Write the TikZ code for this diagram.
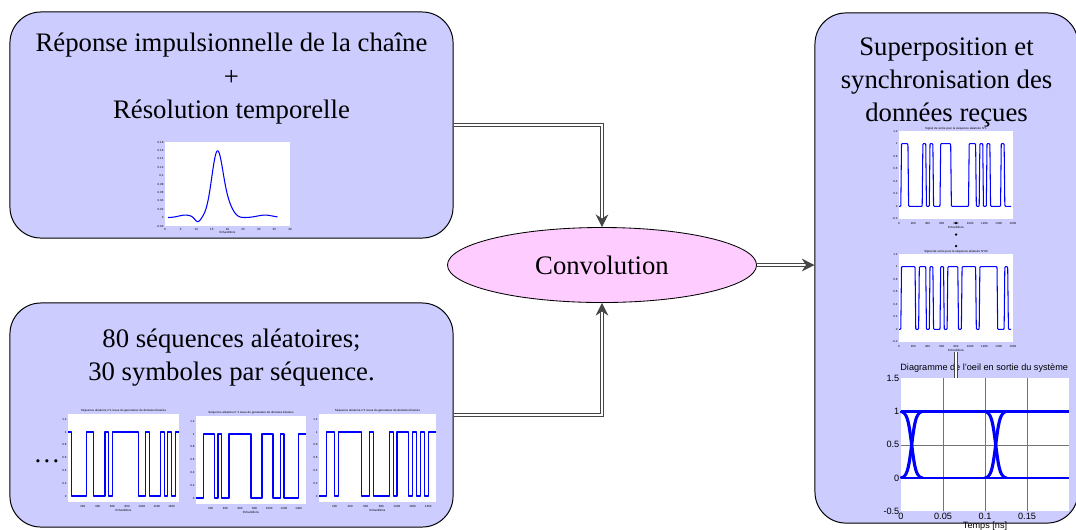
\documentclass[tikz,border=0pt]{standalone}
\usepackage{fontspec}
\setmainfont{Liberation Serif}
\setsansfont{Liberation Sans}
\usetikzlibrary{shapes.geometric,arrows.meta,positioning}

\definecolor{boxblue}{HTML}{CCCCFF}
\definecolor{convpink}{HTML}{FFCCFF}
\definecolor{wireg}{HTML}{464646}

% input sequence: left, top, width, number, first bit, other bits
\newcommand{\seqplot}[6]{%
  \begin{scope}[shift={(#1,#2)}]
    \fill[white] (0,0) rectangle (#3,88);
    \node[ticklab] at ({#3/2},-3) {Séquence aléatoire n°#4 issue du generateur de données binaires};
    \foreach \v in {0,0.2,0.4,0.6,0.8,1,1.2}
      \node[ticklab,anchor=east] at (-1,{82-64*\v}) {\v};
    \foreach \v in {200,400,...,1400}
      \node[ticklab] at ({\v/1500*#3},92) {\v};
    \node[ticklab] at ({#3/2},96) {Echantillons};
    \draw[wave] (0,{82-64*#5}) -- ({#3/30},{82-64*#5})
      \foreach \b [count=\k] in {#6} { -- ({#3*\k/30},{82-64*\b}) -- ({#3*(\k+1)/30},{82-64*\b}) };
  \end{scope}}

% received signal: name, left, top, number, first bit, other bits
\newcommand{\outplot}[6]{%
  \begin{scope}[shift={(#2,#3)}]
    \fill[white] (0,0) rectangle (114,88);
    \node[ticklab] at (57,-2.5) {Signal de sortie pour la séquence aléatoire N°#4};
    \foreach \v in {-0.2,0,0.2,0.4,0.6,0.8,1,1.2}
      \node[ticklab,anchor=east] at (-1,{75.4-62.8*\v}) {\v};
    \foreach \v in {0,200,...,1600}
      \node[ticklab] at ({\v/1600*114},92) {\v};
    \node[ticklab] (#1) at (57,96.5) {Echantillons};
    \draw[wave,rounded corners=0.6pt] (0,75.4) -- (1.8,75.4) -- (2.5,{75.4-62.8*#5}) -- (5.36,{75.4-62.8*#5})
      \foreach \b [count=\k] in {#6} { -- ({1.8+3.5625*\k+0.7},{75.4-62.8*\b}) -- ({1.8+3.5625*(\k+1)},{75.4-62.8*\b}) }
      -- (109.4,75.4) -- (112,75.4);
  \end{scope}}

\begin{document}
\begin{tikzpicture}[x=0.025cm,y=-0.025cm,node distance=1cm,
    box/.style={draw,line width=0.7pt,fill=boxblue,rounded corners=22pt,inner sep=0pt},
    txt/.style={align=center,font=\fontsize{19}{23.5}\selectfont,inner sep=0pt},
    dline/.style={draw=wireg,double=white,double distance=1.4pt,line width=0.85pt,
      -{Stealth[length=9pt,width=9pt]}},
    wave/.style={blue,line width=0.75pt,line join=round},
    ticklab/.style={font=\sffamily\fontsize{2.1}{2.5}\selectfont,inner sep=0.2pt},
    eyelab/.style={font=\sffamily\fontsize{6.5}{7.5}\selectfont,inner sep=1pt},
    eyegrid/.style={black!55,line width=0.35pt},
    eyetrace/.style={blue,line width=1.3pt},
    declare function={bump(\t,\m,\s)=exp(-(\t-\m)*(\t-\m)/(\s*\s));
      imp(\t)=0.158*bump(\t,16.8,2.6)+0.02*bump(\t,20.5,2.2)+0.006*bump(\t,6.5,3)
        -0.011*bump(\t,10.5,1.3)+0.006*bump(\t,32,3.5);}]
\useasboundingbox (0,0) rectangle (1076,529);

\node[box,minimum width=11.075cm,minimum height=5.65cm] (rep) at (231.5,125) {};
\node[box,minimum width=11.075cm,minimum height=5.6cm] (seq) at (231.5,415) {};
\node[box,minimum width=6.575cm,minimum height=12.75cm] (res) at (946.5,268) {};
\node[draw,ellipse,fill=convpink,line width=0.6pt,minimum width=7.725cm,minimum height=1.875cm,txt]
  (conv) at (602,265) {Convolution};

\node[txt] (reptxt) [below=0.54cm of rep.north] {Réponse impulsionnelle de la chaîne\\+\\Résolution temporelle};
\node[txt] (seqtxt) [below=0.66cm of seq.north] {80 séquences aléatoires;\\30 symboles par séquence.};
\node[txt] (restxt) [below=0.62cm of res.north] {Superposition et\\synchronisation des\\données reçues};

\path[dline] (rep.east) -| (conv.north);
\path[dline] (seq.east) -| (conv.south);
\path[dline] (conv.east) -- (conv.east -| res.west);

% impulse response
\begin{scope}[shift={(165,226)}]
  \fill[white] (0,0) rectangle (125,-84);
  \foreach \v in {-0.02,0,0.02,0.04,0.06,0.08,0.1,0.12,0.14,0.16,0.18}
    \node[ticklab,anchor=east] at (-1,{-420*(\v+0.02)}) {\v};
  \foreach \v in {0,5,...,40}
    \node[ticklab] at (3.125*\v,3) {\v};
  \node[ticklab] at (62.5,6.5) {Echantillons};
  \draw[wave] plot[domain=1:36,samples=140] (3.125*\x,{-420*(imp(\x)+0.02)});
\end{scope}

% emitted sequences
\node[txt] (etc) at (47,461) {\dots};
\seqplot{68}{414}{111}{1}{1}{0,0,0,0,1,1,0,0,0,1,0,1,1,1,1,1,1,1,0,0,1,0,0,0,1,0,1,0,1}
\seqplot{196}{416}{110}{1}{0}{0,1,1,1,0,1,0,0,1,1,1,1,1,1,0,0,0,1,1,1,0,0,1,0,0,0,0,1,1}
\seqplot{319}{414}{117}{1}{0}{0,1,1,0,1,1,1,1,1,1,0,0,1,0,0,0,0,1,0,1,1,1,0,1,0,1,0,1,1}

% received signals
\outplot{lab1}{899}{131}{1}{1}{1,0,0,0,0,1,0,1,0,0,1,1,1,0,0,0,0,0,1,1,0,1,0,1,0,0,0,1,0}
\outplot{lab80}{899}{254}{80}{1}{1,1,1,0,1,1,0,1,0,0,1,0,1,1,1,0,1,1,1,1,0,1,1,1,1,1,0,0,1}
\foreach \y in {223,234.5,246}
  \fill (956,\y) circle (0.9pt);

% eye diagram
\begin{scope}[shift={(901,478)},x=21cm,y=1.6625cm]
  \fill[white] (0,-0.5) rectangle (0.2,1.5);
  \foreach \t in {0.05,0.1,0.15}
    \draw[eyegrid] (\t,-0.5) -- (\t,1.5);
  \foreach \v in {0,0.5,1}
    \draw[eyegrid] (0,\v) -- (0.2,\v);
  \foreach \v in {-0.5,0,0.5,1,1.5}
    \node[eyelab,anchor=east] at (0,\v) {\v};
  \foreach \t in {0,0.05,0.1,0.15}
    \node[eyelab,anchor=north] at (\t,-0.5) {\t};
  \node[eyelab] (eyetitle) at (0.099,1.654) {Diagramme de l'oeil en sortie du système};
  \node[eyelab] (eyexlab) at (0.1,-0.72) {Temps [ns]};
  \coordinate (eyetop) at (0,1.5);
  \draw[eyetrace,line width=1.8pt] (0,0) -- (0.2,0) (0,1) -- (0.2,1);
  \foreach \c in {0.0127,0.1127}
    \foreach \d in {-0.0008,0,0.0008} {
      \draw[eyetrace] plot[domain=-0.013:0.013,samples=25] (\x+\c+\d,{0.5+0.5*tanh(\x/0.005)});
      \draw[eyetrace] plot[domain=-0.013:0.013,samples=25] (\x+\c+\d,{0.5-0.5*tanh(\x/0.005)});
    }
\end{scope}
\path[dline,-] (lab80.south) -- (lab80.south |- eyetop);

\end{tikzpicture}
\end{document}
